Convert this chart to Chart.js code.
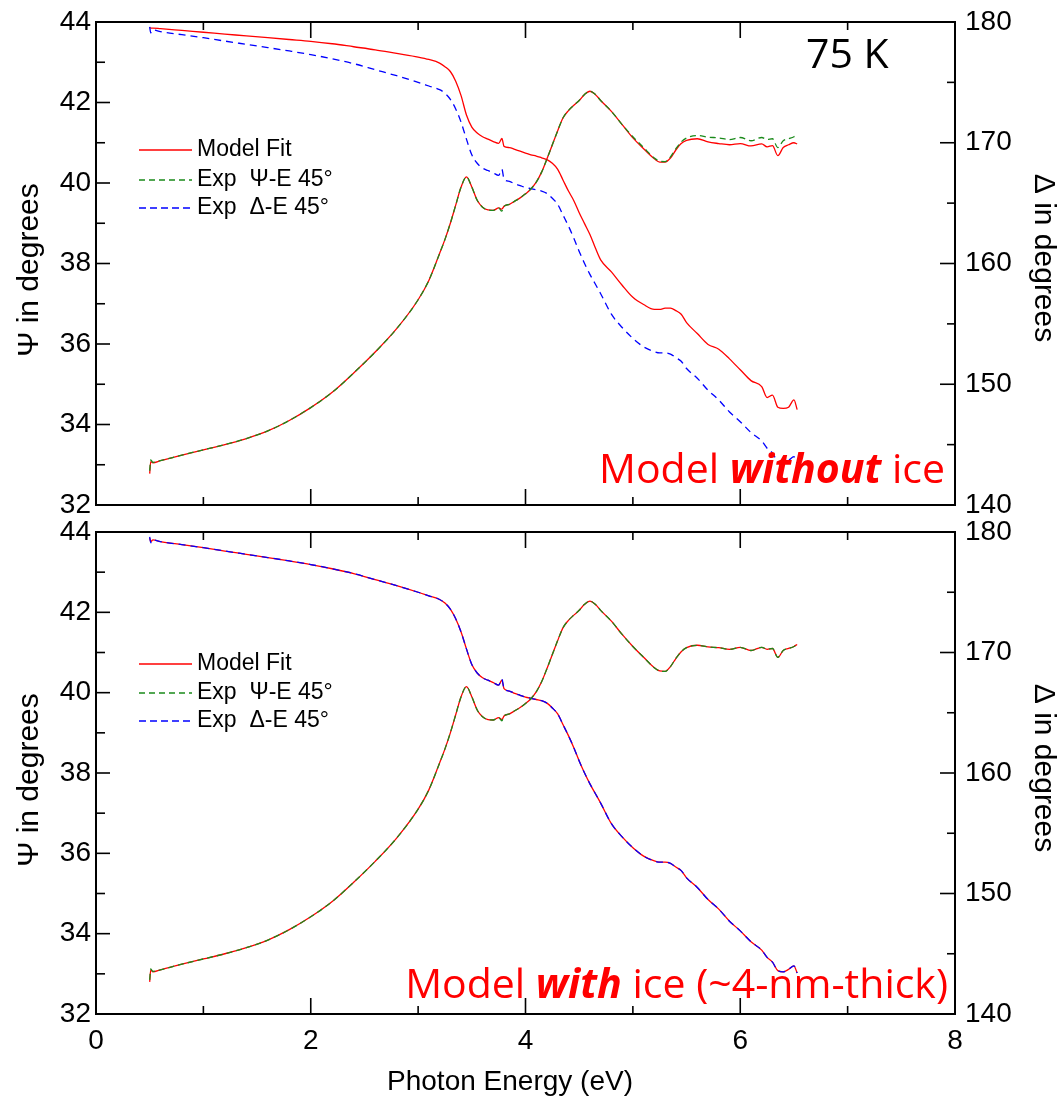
<!DOCTYPE html>
<html><head><meta charset="utf-8">
<script src="https://cdn.jsdelivr.net/npm/chart.js@4"></script>
<style>
html,body{margin:0;padding:0;background:#fff;}
#wrap{position:relative;width:1061px;height:1100px;overflow:hidden;background:#fff;}
.pane{position:absolute;left:0;}
</style></head><body>
<div id="wrap">
<div class="pane" style="top:0;width:1061px;height:530px"><canvas id="c1" width="1061" height="530"></canvas></div>
<div class="pane" style="top:510px;width:1061px;height:590px"><canvas id="c2" width="1061" height="590"></canvas></div>
</div>
<script>
// ---------------- DATA ----------------
const energy = [0.5,0.51,0.53,0.6,0.8, 1.0,1.2,1.4,1.6,1.8, 2.0,2.2,2.4,2.6,2.8, 3.0,3.1,3.2,3.25,3.3,
  3.35,3.4,3.45,3.5,3.55, 3.6,3.65,3.7,3.75,3.78, 3.8,3.85,3.9,3.95,4.0, 4.05,4.1,4.15,4.2,4.25,
  4.3,4.35,4.4,4.45,4.5, 4.55,4.6,4.65,4.7,4.8, 4.9,5.0,5.1,5.2,5.25, 5.3,5.35,5.4,5.45,5.5,
  5.6,5.7,5.8,5.9,6.0, 6.1,6.2,6.25,6.3,6.35, 6.4,6.45,6.5,6.53];

// Experimental Psi (deg)
const psiExp = [32.85,33.12,33.06,33.1,33.24, 33.37,33.5,33.65,33.84,34.1, 34.42,34.8,35.28,35.8,36.38,
  37.1,37.58,38.25,38.6,39.0, 39.45,39.9,40.15,39.9,39.57, 39.4,39.33,39.32,39.38,39.3,
  39.42,39.47,39.55,39.63,39.73, 39.85,40.02,40.27,40.6,40.95, 41.3,41.62,41.8,41.93,42.05,
  42.2,42.28,42.2,42.05,41.78, 41.45,41.15,40.88,40.62,40.54, 40.53,40.65,40.85,41.02,41.12,
  41.18,41.14,41.12,41.08,41.13, 41.05,41.13,41.08,41.1,40.88, 41.05,41.1,41.15,41.2];

// Experimental Delta (deg)
const deltaExp = [179.6,179.1,179.35,179.2,178.95, 178.7,178.42,178.15,177.88,177.6, 177.3,176.95,176.55,176.05,175.55,
  175.0,174.7,174.4,174.1,173.6, 172.8,171.7,170.3,169.0,168.3, 167.9,167.7,167.5,167.3,167.8,
  167.0,166.8,166.6,166.45,166.3, 166.2,166.1,166.0,165.8,165.4, 164.9,164.0,163.1,162.1,161.0,
  160.0,159.1,158.3,157.5,155.8, 154.7,153.8,153.1,152.7,152.6, 152.6,152.5,152.2,151.9,151.3,
  150.5,149.5,148.7,147.7,146.9, 146.0,145.3,144.7,144.3,143.6, 143.5,143.7,144.0,143.4];

// Model fit without ice
const psiFitNoIce = [32.78,33.08,33.05,33.1,33.24, 33.37,33.5,33.65,33.84,34.1, 34.42,34.8,35.28,35.8,36.38,
  37.1,37.58,38.25,38.6,39.0, 39.45,39.9,40.15,39.9,39.57, 39.4,39.33,39.32,39.38,39.35,
  39.42,39.47,39.55,39.63,39.73, 39.85,40.02,40.27,40.6,40.95, 41.3,41.62,41.8,41.93,42.05,
  42.2,42.28,42.2,42.05,41.78, 41.45,41.12,40.85,40.6,40.52, 40.52,40.62,40.82,40.98,41.06,
  41.1,41.02,40.98,40.95,40.98, 40.92,40.97,40.9,40.93,40.68, 40.88,40.95,41.0,40.97];
const deltaFitNoIce = [179.55,179.5,179.5,179.45,179.3, 179.15,179.0,178.85,178.7,178.55, 178.4,178.2,177.95,177.7,177.4,
  177.1,176.9,176.6,176.3,175.9, 175.1,173.9,172.3,171.3,170.8, 170.5,170.3,170.1,169.95,170.35,
  169.7,169.6,169.45,169.3,169.15, 169.0,168.9,168.75,168.6,168.3, 167.8,166.9,166.0,165.2,164.2,
  163.3,162.4,161.3,160.3,159.3, 158.2,157.2,156.6,156.2,156.2, 156.3,156.3,156.1,155.8,155.1,
  154.2,153.3,152.9,152.1,151.2, 150.3,149.8,148.9,149.1,148.1, 148.0,148.1,148.7,147.9];

// Model fit with ice (~4 nm)
const psiFitIce = [32.8,33.1,33.05,33.1,33.24, 33.37,33.5,33.65,33.84,34.1, 34.42,34.8,35.28,35.8,36.38,
  37.1,37.58,38.25,38.6,39.0, 39.45,39.9,40.15,39.9,39.57, 39.4,39.33,39.32,39.38,39.33,
  39.42,39.47,39.55,39.63,39.73, 39.85,40.02,40.27,40.6,40.95, 41.3,41.62,41.8,41.93,42.05,
  42.2,42.28,42.2,42.05,41.78, 41.45,41.15,40.88,40.62,40.54, 40.53,40.65,40.85,41.02,41.12,
  41.18,41.14,41.12,41.08,41.13, 41.05,41.13,41.08,41.1,40.88, 41.05,41.1,41.15,41.2];
const deltaFitIce = [179.5,179.2,179.35,179.2,178.95, 178.7,178.42,178.15,177.88,177.6, 177.3,176.95,176.55,176.05,175.55,
  175.0,174.7,174.4,174.1,173.6, 172.8,171.7,170.3,169.0,168.3, 167.9,167.7,167.5,167.3,167.7,
  167.0,166.8,166.6,166.45,166.3, 166.2,166.1,166.0,165.8,165.4, 164.9,164.0,163.1,162.1,161.0,
  160.0,159.1,158.3,157.5,155.8, 154.7,153.8,153.1,152.7,152.6, 152.6,152.5,152.2,151.9,151.3,
  150.5,149.5,148.7,147.7,146.9, 146.0,145.3,144.7,144.3,143.6, 143.5,143.7,144.0,143.4];

// Axis ticks
const xTicks = [0,2,4,6,8];
const xMinorTicks = [1,3,5,7];
const psiTicks = [32,34,36,38,40,42,44];
const psiMinorTicks = [33,35,37,39,41,43];
const deltaTicks = [140,150,160,170,180];
const deltaMinorTicks = [145,155,165,175];

const legendNames = ['Model Fit','Exp  \u03A8-E 45\u00B0','Exp  \u0394-E 45\u00B0'];
const xTitle = 'Photon Energy (eV)';
const psiTitle = '\u03A8 in degrees';
const deltaTitle = '\u0394 in degrees';

// ---------------- STYLE ----------------
const SANS = "'Liberation Sans', Arial, sans-serif";
const CAL = "'Open Sans', 'Noto Sans', sans-serif";
const RED = '#ff0000', GREEN = '#1a8a1a', BLUE = '#0000ff';

function pts(arr){ return energy.map((e,i)=>({x:e, y:arr[i]})); }

function line(ctx,x1,y1,x2,y2){ ctx.beginPath(); ctx.moveTo(x1,y1); ctx.lineTo(x2,y2); ctx.stroke(); }

function drawRich(ctx, parts, xRight, baseline){
  let total = 0;
  parts.forEach(p=>{ ctx.font = p.font; p.w = ctx.measureText(p.t).width; total += p.w; });
  let x = xRight - total;
  ctx.textAlign = 'left'; ctx.textBaseline = 'alphabetic';
  parts.forEach(p=>{ ctx.font = p.font; ctx.fillText(p.t, x, baseline); x += p.w; });
}

function decoPlugin(cfg){
  return {
    id:'deco',
    afterDraw(chart){
      const {ctx, chartArea:a, scales} = chart;
      ctx.save();
      ctx.strokeStyle = '#000';
      ctx.lineWidth = 2;
      ctx.strokeRect(a.left, a.top, a.right-a.left, a.bottom-a.top);
      ctx.lineWidth = 1.6;
      xTicks.forEach(v=>{ const p = scales.x.getPixelForValue(v); line(ctx,p,a.bottom,p,a.bottom-16); line(ctx,p,a.top,p,a.top+16); });
      xMinorTicks.forEach(v=>{ const p = scales.x.getPixelForValue(v); line(ctx,p,a.bottom,p,a.bottom-8); line(ctx,p,a.top,p,a.top+8); });
      psiTicks.forEach(v=>{ const p = scales.y.getPixelForValue(v); line(ctx,a.left,p,a.left+14,p); });
      psiMinorTicks.forEach(v=>{ const p = scales.y.getPixelForValue(v); line(ctx,a.left,p,a.left+9,p); });
      deltaTicks.forEach(v=>{ const p = scales.y2.getPixelForValue(v); line(ctx,a.right,p,a.right-15,p); });
      deltaMinorTicks.forEach(v=>{ const p = scales.y2.getPixelForValue(v); line(ctx,a.right,p,a.right-8,p); });

      // axis titles
      ctx.fillStyle = '#000';
      ctx.font = '30px ' + SANS;
      ctx.textAlign = 'center'; ctx.textBaseline = 'middle';
      ctx.save(); ctx.translate(30, cfg.psiTitleY); ctx.rotate(-Math.PI/2); ctx.fillText(psiTitle, 0, 0); ctx.restore();
      ctx.save(); ctx.translate(1043, cfg.deltaTitleY); ctx.rotate(Math.PI/2); ctx.fillText(deltaTitle, 0, 0); ctx.restore();
      if (cfg.showX){
        ctx.font = '28px ' + SANS;
        ctx.fillText(xTitle, 510, 572);
      }

      // legend
      const colors = [RED, GREEN, BLUE];
      const dashes = [[], [6,4], [7,4]];
      ctx.font = '23px ' + SANS;
      ctx.textAlign = 'left'; ctx.textBaseline = 'middle';
      cfg.legendRows.forEach((yy,i)=>{
        ctx.strokeStyle = colors[i]; ctx.lineWidth = 1.4; ctx.setLineDash(dashes[i]);
        line(ctx, 139, yy, 192, yy);
        ctx.setLineDash([]);
        ctx.fillStyle = '#000';
        ctx.fillText(legendNames[i], 197, yy);
      });

      // annotations
      if (cfg.tempLabel){
        ctx.fillStyle = '#000';
        ctx.font = '41px ' + CAL;
        ctx.textAlign = 'left'; ctx.textBaseline = 'alphabetic';
        ctx.fillText('75 K', 806, 68);
      }
      ctx.fillStyle = RED;
      drawRich(ctx, cfg.note, cfg.noteRight, cfg.noteBase);
      ctx.restore();
    }
  };
}

function zeroPad(s){ s.paddingTop = 0; s.paddingBottom = 0; s.paddingLeft = 0; s.paddingRight = 0; }

function makePanel(id, psiFit, deltaFit, cfg){
  const tickFont = {family: SANS, size: 28};
  return new Chart(document.getElementById(id), {
    type: 'line',
    data: { datasets: [
      {data: pts(psiExp), yAxisID:'y', borderColor:GREEN, borderDash:[6,4], borderWidth:1.3, order:1},
      {data: pts(deltaExp), yAxisID:'y2', borderColor:BLUE, borderDash:[7,5], borderWidth:1.3, order:1},
      {data: pts(psiFit), yAxisID:'y', borderColor:RED, borderWidth:1.3, order:2},
      {data: pts(deltaFit), yAxisID:'y2', borderColor:RED, borderWidth:1.3, order:2}
    ]},
    options: {
      responsive:false, animation:false, events:[],
      parsing:false, normalized:true,
      elements:{ point:{radius:0}, line:{cubicInterpolationMode:'monotone', fill:false} },
      layout:{ padding:{ top:22, bottom: cfg.padBottom, left:0, right:0 } },
      plugins:{ legend:{display:false}, tooltip:{enabled:false}, title:{display:false} },
      scales:{
        x:{ type:'linear', min:0, max:8, display: cfg.showX,
            afterBuildTicks: s=>{ s.ticks = xTicks.map(v=>({value:v})); },
            grid:{display:false, drawTicks:false}, border:{display:false},
            ticks:{font:tickFont, color:'#000', padding:10, maxRotation:0, autoSkip:false},
            afterFit: s=>{ s.height = cfg.showX ? 86 : 0; zeroPad(s); } },
        y:{ type:'linear', position:'left', min:32, max:44,
            afterBuildTicks: s=>{ s.ticks = psiTicks.map(v=>({value:v})); },
            grid:{display:false, drawTicks:false}, border:{display:false},
            ticks:{font:tickFont, color:'#000', padding:5},
            afterFit: s=>{ s.width = 96; zeroPad(s); } },
        y2:{ type:'linear', position:'right', min:140, max:180,
            afterBuildTicks: s=>{ s.ticks = deltaTicks.map(v=>({value:v})); },
            grid:{display:false, drawTicks:false}, border:{display:false},
            ticks:{font:tickFont, color:'#000', padding:10},
            afterFit: s=>{ s.width = 106; zeroPad(s); } }
      }
    },
    plugins:[decoPlugin(cfg)]
  });
}

makePanel('c1', psiFitNoIce, deltaFitNoIce, {
  showX:false, padBottom:25, psiTitleY:270, deltaTitleY:258, legendRows:[150,180,208], tempLabel:true,
  note:[{t:'Model ', font:'41px '+CAL},{t:'without', font:'italic bold 41px '+CAL},{t:' ice', font:'41px '+CAL}],
  noteRight:945, noteBase:483
});
makePanel('c2', psiFitIce, deltaFitIce, {
  showX:true, padBottom:0, psiTitleY:270, deltaTitleY:258, legendRows:[154,183,211], tempLabel:false,
  note:[{t:'Model ', font:'41px '+CAL},{t:'with', font:'italic bold 41px '+CAL},{t:' ice (~4-nm-thick)', font:'41px '+CAL}],
  noteRight:948, noteBase:488
});
</script>
</body></html>
